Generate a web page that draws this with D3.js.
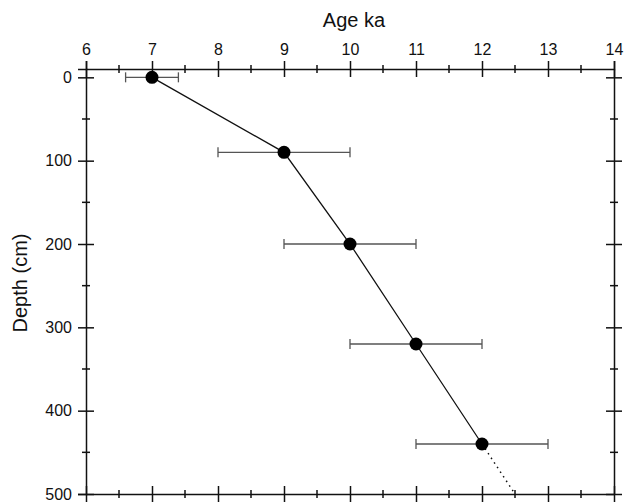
<!DOCTYPE html>
<html>
<head>
<meta charset="utf-8">
<script src="https://cdn.jsdelivr.net/npm/d3@7"></script>
<style>
  body { margin: 0; background: #fff; }
  text { font-family: "Liberation Sans", Arial, sans-serif; fill: #111; }
</style>
</head>
<body>
<div class="chart"></div>
<script>
const svgWidth = 624;
const svgHeight = 502;

// data
const ages = [7, 9, 10, 11, 12];
const depths = [0, 90, 200, 320, 440];
const ageErrLow = [6.6, 8, 9, 10, 11];
const ageErrHigh = [7.4, 10, 11, 12, 13];
// dotted extrapolation below the last date
const extrapAges = [12, 12.5];
const extrapDepths = [440, 500];

const xTicks = [6, 7, 8, 9, 10, 11, 12, 13, 14];
const yTicks = [0, 100, 200, 300, 400, 500];

const svg = d3.select('.chart')
  .append('svg')
  .attr('width', svgWidth)
  .attr('height', svgHeight);

const x = d3.scaleLinear().domain([6, 14]).range([86, 614]);
const y = d3.scaleLinear().domain([-10, 500]).range([69, 494]);

const axisColor = '#111';

// crossing ticks helper
function crossTicks(g, major, minor, vertical) {
  g.selectAll('.tick line')
    .attr('stroke', axisColor)
    .attr('stroke-width', 1.5);
  if (vertical) {
    g.selectAll('.tick line').attr('x1', -major).attr('x2', major);
  } else {
    g.selectAll('.tick line').attr('y1', -major).attr('y2', major);
  }
  g.select('.domain').attr('stroke', axisColor).attr('stroke-width', 1.5);
}

// minor ticks (half steps)
const xMinor = d3.range(6.5, 14, 1);
const yMinor = d3.range(50, 500, 100);

// top axis with labels
const topAxis = svg.append('g')
  .attr('transform', `translate(0, ${y.range()[0]})`)
  .call(d3.axisTop(x).tickValues(xTicks).tickSizeOuter(0).tickSize(8).tickPadding(6).tickFormat(d3.format('d')))
  .call(g => crossTicks(g, 8, 4, false));
topAxis.selectAll('text').attr('font-size', 16).style('font-family', '"Liberation Sans", Arial, sans-serif').attr('fill', '#111');

// bottom axis, no labels
svg.append('g')
  .attr('transform', `translate(0, ${y.range()[1]})`)
  .call(d3.axisBottom(x).tickValues(xTicks).tickSizeOuter(0).tickFormat(''))
  .call(g => crossTicks(g, 8, 4, false));

// left axis with labels
const leftAxis = svg.append('g')
  .attr('transform', `translate(${x.range()[0]}, 0)`)
  .call(d3.axisLeft(y).tickValues(yTicks).tickSizeOuter(0).tickSize(8).tickPadding(6))
  .call(g => crossTicks(g, 8, 4, true));
leftAxis.selectAll('text').attr('font-size', 16).style('font-family', '"Liberation Sans", Arial, sans-serif').attr('fill', '#111');

// right axis, no labels
svg.append('g')
  .attr('transform', `translate(${x.range()[1]}, 0)`)
  .call(d3.axisRight(y).tickValues(yTicks).tickSizeOuter(0).tickFormat(''))
  .call(g => crossTicks(g, 8, 4, true));

// minor ticks
[y.range()[0], y.range()[1]].forEach(py => {
  svg.append('g').selectAll('line')
    .data(xMinor)
    .enter()
    .append('line')
    .attr('x1', d => x(d)).attr('x2', d => x(d))
    .attr('y1', py - 4).attr('y2', py + 4)
    .attr('stroke', axisColor)
    .attr('stroke-width', 1.5);
});
[x.range()[0], x.range()[1]].forEach(px => {
  svg.append('g').selectAll('line')
    .data(yMinor)
    .enter()
    .append('line')
    .attr('y1', d => y(d)).attr('y2', d => y(d))
    .attr('x1', px - 4).attr('x2', px + 4)
    .attr('stroke', axisColor)
    .attr('stroke-width', 1.5);
});

const points = ages.map((a, i) => ({ age: a, depth: depths[i], lo: ageErrLow[i], hi: ageErrHigh[i] }));

// error bars
const errGroup = svg.append('g')
  .attr('stroke', '#555')
  .attr('stroke-width', 1.3);
errGroup.selectAll('line.bar')
  .data(points)
  .enter()
  .append('line')
  .attr('class', 'bar')
  .attr('x1', d => x(d.lo)).attr('x2', d => x(d.hi))
  .attr('y1', d => y(d.depth)).attr('y2', d => y(d.depth));
errGroup.selectAll('line.caplo')
  .data(points)
  .enter()
  .append('line')
  .attr('class', 'caplo')
  .attr('x1', d => x(d.lo)).attr('x2', d => x(d.lo))
  .attr('y1', d => y(d.depth) - 5).attr('y2', d => y(d.depth) + 5);
errGroup.selectAll('line.caphi')
  .data(points)
  .enter()
  .append('line')
  .attr('class', 'caphi')
  .attr('x1', d => x(d.hi)).attr('x2', d => x(d.hi))
  .attr('y1', d => y(d.depth) - 5).attr('y2', d => y(d.depth) + 5);

// age-depth line
const line = d3.line().x(d => x(d.age)).y(d => y(d.depth));
svg.append('path')
  .datum(points)
  .attr('d', line)
  .attr('fill', 'none')
  .attr('stroke', '#111')
  .attr('stroke-width', 1.3);

// dotted extrapolation
svg.append('path')
  .datum(extrapAges.map((a, i) => ({ age: a, depth: extrapDepths[i] })))
  .attr('d', line)
  .attr('fill', 'none')
  .attr('stroke', '#111')
  .attr('stroke-width', 1.5)
  .attr('stroke-dasharray', '1.5,4');

// markers
svg.append('g').selectAll('circle')
  .data(points)
  .enter()
  .append('circle')
  .attr('cx', d => x(d.age))
  .attr('cy', d => y(d.depth))
  .attr('r', 6.5)
  .attr('fill', '#000');

// axis titles
svg.append('text')
  .attr('x', 354)
  .attr('y', 27)
  .attr('text-anchor', 'middle')
  .attr('font-size', 20)
  .text('Age ka');

svg.append('text')
  .attr('transform', 'translate(27, 283) rotate(-90)')
  .attr('text-anchor', 'middle')
  .attr('font-size', 20)
  .text('Depth (cm)');
</script>
</body>
</html>
